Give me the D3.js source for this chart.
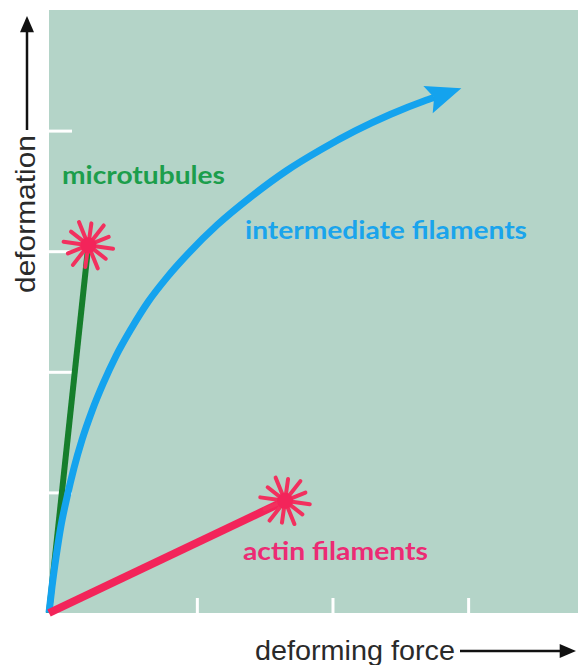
<!DOCTYPE html>
<html>
<head>
<meta charset="utf-8">
<script src="https://cdn.jsdelivr.net/npm/d3@7"></script>
<style>
  body { margin: 0; background: #fff; }
  svg { display: block; }
</style>
</head>
<body>
<div id="chart"></div>
<script>
const width = 578;
const height = 665;

// data (arbitrary units)
const mtX = [0, 0.29];
const mtY = [0, 3.05];

const actinX = [0, 1.74];
const actinY = [0, 0.93];

const ifX = [0, 0.022, 0.052, 0.088, 0.133, 0.184, 0.243, 0.317, 0.398, 0.494, 0.605, 0.73, 0.87, 1.04, 1.239, 1.497, 1.748, 2.006, 2.257, 2.515, 2.765, 2.839];
const ifY = [0, 0.216, 0.464, 0.721, 0.962, 1.202, 1.434, 1.675, 1.899, 2.131, 2.355, 2.579, 2.783, 2.997, 3.217, 3.458, 3.665, 3.843, 3.997, 4.133, 4.245, 4.274];

const yTicks = [1, 2, 3, 4];
const xTicks = [1.09, 2.09, 3.09];

const labels = ["microtubules", "intermediate filaments", "actin filaments"];

// scales
let x = d3.scaleLinear()
  .domain([0, 3.9])
  .range([49, 578]);

let y = d3.scaleLinear()
  .domain([0, 5])
  .range([613, 10]);

const svg = d3.select("#chart")
  .append("svg")
  .attr("width", width)
  .attr("height", height);

const defs = svg.append("defs");

defs.append("marker")
  .attr("id", "blueHead")
  .attr("viewBox", "0 -10 22 20")
  .attr("refX", 4)
  .attr("refY", 0)
  .attr("markerUnits", "userSpaceOnUse")
  .attr("markerWidth", 36)
  .attr("markerHeight", 32)
  .attr("orient", "auto")
  .append("path")
  .attr("d", "M0,-9L22,0L0,9L4,0Z")
  .attr("fill", "#14a3ee");

defs.append("marker")
  .attr("id", "blackHead")
  .attr("viewBox", "0 -6 14 12")
  .attr("refX", 2)
  .attr("refY", 0)
  .attr("markerUnits", "userSpaceOnUse")
  .attr("markerWidth", 18)
  .attr("markerHeight", 14)
  .attr("orient", "auto")
  .append("path")
  .attr("d", "M0,-6L14,0L0,6Z")
  .attr("fill", "#111");

// plot background
svg.append("rect")
  .attr("x", x(0))
  .attr("y", y(5))
  .attr("width", x(3.9) - x(0))
  .attr("height", y(0) - y(5))
  .attr("fill", "#b4d4c8");

// ticks (white, inside)
svg.append("g")
  .attr("transform", `translate(${x(0)},0)`)
  .call(d3.axisRight(y).tickValues(yTicks).tickSize(23).tickFormat(""))
  .call(g => g.select(".domain").remove())
  .selectAll("line")
  .attr("stroke", "#fff")
  .attr("stroke-width", 3);

svg.append("g")
  .attr("transform", `translate(0,${y(0)})`)
  .call(d3.axisTop(x).tickValues(xTicks).tickSize(15).tickFormat(""))
  .call(g => g.select(".domain").remove())
  .selectAll("line")
  .attr("stroke", "#fff")
  .attr("stroke-width", 3);

const line = d3.line()
  .x(d => x(d[0]))
  .y(d => y(d[1]));

// microtubules
svg.append("path")
  .datum(d3.zip(mtX, mtY))
  .attr("d", line)
  .attr("fill", "none")
  .attr("stroke", "#167e2c")
  .attr("stroke-width", 6);

// intermediate filaments
svg.append("path")
  .datum(d3.zip(ifX, ifY))
  .attr("d", line.curve(d3.curveMonotoneX))
  .attr("fill", "none")
  .attr("stroke", "#14a3ee")
  .attr("stroke-width", 7)
  .attr("marker-end", "url(#blueHead)");

line.curve(d3.curveLinear);

// actin filaments
svg.append("path")
  .datum(d3.zip(actinX, actinY))
  .attr("d", line)
  .attr("fill", "none")
  .attr("stroke", "#f3245a")
  .attr("stroke-width", 8);

// breaking points (stars)
function star(cx, cy) {
  const g = svg.append("g").attr("transform", `translate(${cx},${cy})`);
  d3.range(12).forEach(i => {
    const a = (i * 30 + 8) * Math.PI / 180;
    const r = i % 2 ? 22 : 25;
    g.append("line")
      .attr("x1", 0).attr("y1", 0)
      .attr("x2", r * Math.cos(a)).attr("y2", r * Math.sin(a))
      .attr("stroke", "#f2305e")
      .attr("stroke-width", 4)
      .attr("stroke-linecap", "round");
  });
  g.append("circle").attr("r", 8).attr("fill", "#f3245a");
}
star(x(mtX[1]), y(mtY[1]));
star(x(actinX[1]), y(actinY[1]));

// labels
const labelFont = "Lato, 'Noto Sans', sans-serif";
svg.append("text")
  .attr("x", 62).attr("y", 184)
  .attr("textLength", 163)
  .attr("lengthAdjust", "spacingAndGlyphs")
  .attr("font-family", labelFont)
  .attr("font-weight", 700)
  .attr("font-size", 24)
  .attr("fill", "#1c9e4c")
  .text(labels[0]);

svg.append("text")
  .attr("x", 245).attr("y", 239)
  .attr("textLength", 282)
  .attr("lengthAdjust", "spacingAndGlyphs")
  .attr("font-family", labelFont)
  .attr("font-weight", 700)
  .attr("font-size", 24)
  .attr("fill", "#1aa4ec")
  .text(labels[1]);

svg.append("text")
  .attr("x", 243).attr("y", 560)
  .attr("textLength", 185)
  .attr("lengthAdjust", "spacingAndGlyphs")
  .attr("font-family", labelFont)
  .attr("font-weight", 700)
  .attr("font-size", 24)
  .attr("fill", "#ec2b74")
  .text(labels[2]);

// axis titles with arrows
const axisFont = "'Liberation Sans', Arial, sans-serif";

svg.append("text")
  .attr("x", 255).attr("y", 660)
  .attr("textLength", 200)
  .attr("lengthAdjust", "spacingAndGlyphs")
  .attr("font-family", axisFont)
  .attr("font-size", 27)
  .attr("fill", "#2a2a2a")
  .text("deforming force");

svg.append("line")
  .attr("x1", 460).attr("y1", 651)
  .attr("x2", 562).attr("y2", 651)
  .attr("stroke", "#111")
  .attr("stroke-width", 2.5)
  .attr("marker-end", "url(#blackHead)");

svg.append("text")
  .attr("transform", "translate(35,293) rotate(-90)")
  .attr("textLength", 158)
  .attr("lengthAdjust", "spacingAndGlyphs")
  .attr("font-family", axisFont)
  .attr("font-size", 28)
  .attr("fill", "#2a2a2a")
  .text("deformation");

svg.append("line")
  .attr("x1", 27).attr("y1", 130)
  .attr("x2", 27).attr("y2", 30)
  .attr("stroke", "#111")
  .attr("stroke-width", 2.5)
  .attr("marker-end", "url(#blackHead)");
</script>
</body>
</html>
